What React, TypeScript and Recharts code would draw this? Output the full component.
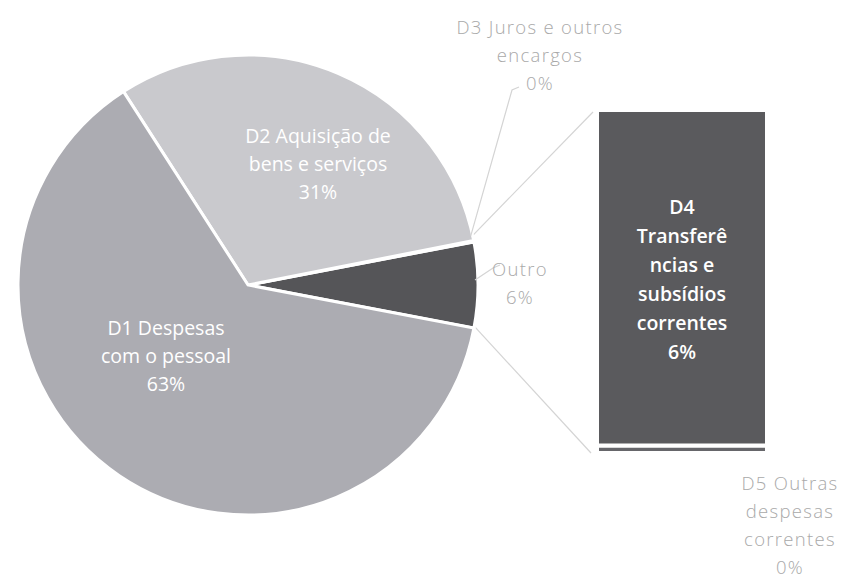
import { Bar, BarChart, Cell, Pie, PieChart, XAxis, YAxis } from "recharts";

// values are percentages of total current expenditure
const PIE_NAMES = ["D3 Juros e outros encargos", "D2 Aquisição de bens e serviços", "D1 Despesas com o pessoal"];
const PIE_VALUES = [0.1, 31.0, 62.9];
const BAR_NAMES = ["D5 Outras despesas correntes", "D4 Transferências e subsídios correntes"];
const BAR_VALUES = [0.13, 5.87];
const OTHER_NAME = "Outro";

const W = 850;
const H = 579;
const FONT = "'Open Sans', 'Noto Sans', sans-serif";

const CX = 243;
const CY = 280;
const R = 230;

const BAR_LEFT = 597;
const BAR_RIGHT = 767;
const BAR_TOP = 110;
const BAR_BOTTOM = 453;

const TEXT_GREY = "#a9a9a9";
const LINE_GREY = "#d4d4d4";

const otherValue = BAR_VALUES.reduce((a, b) => a + b, 0);
const total = otherValue + PIE_VALUES.reduce((a, b) => a + b, 0);
const halfOther = (otherValue / total) * 180;

// pie is drawn counter-clockwise starting with "Outro" centred on 3 o'clock
const pieData = [
  { name: OTHER_NAME, value: otherValue },
  ...PIE_NAMES.map((name, i) => ({ name, value: PIE_VALUES[i] })),
];
const PIE_COLORS = ["#555558", "#c6c6ca", "#c9c9cd", "#acacb2"];

const PIE_LABEL_LINES: string[][] = [
  ["Outro"],
  ["D3 Juros e outros", "encargos"],
  ["D2 Aquisição de", "bens e serviços"],
  ["D1 Despesas", "com o pessoal"],
];
// label centre offset from pie centre, inside labels are white
const PIE_LABEL_POS = [
  { dx: 277, dy: 2, inside: false, elbow: [250, -12] },
  { dx: 297, dy: -226, inside: false, elbow: [269, -190] },
  { dx: 75, dy: -117, inside: true, elbow: null },
  { dx: -77, dy: 75, inside: true, elbow: null },
];

const barData = [
  BAR_NAMES.reduce(
    (row, name, i) => ({ ...row, [`v${i}`]: BAR_VALUES[i] }),
    { name: OTHER_NAME } as Record<string, string | number>
  ),
];
const BAR_COLORS = ["#66666a", "#5a5a5d"];
const BAR_LABEL_LINES: string[][] = [
  ["D5 Outras", "despesas", "correntes"],
  ["D4", "Transferê", "ncias e", "subsídios", "correntes"],
];

const LH = 28;

function TextBlock({
  x,
  y,
  lines,
  fill,
  weight,
  size = 19.5,
  spacing = 0,
  lh = LH,
}: {
  x: number;
  y: number;
  lines: string[];
  fill: string;
  weight: number;
  size?: number;
  spacing?: number;
  lh?: number;
}) {
  const top = y - ((lines.length - 1) * lh) / 2;
  return (
    <text
      x={x}
      y={top}
      textAnchor="middle"
      fill={fill}
      fontFamily={FONT}
      fontSize={size}
      fontWeight={weight}
      letterSpacing={spacing}
    >
      {lines.map((l, i) => (
        <tspan key={i} x={x} y={top + i * lh} dominantBaseline="central">
          {l}
        </tspan>
      ))}
    </text>
  );
}

function renderPieLabel(p: any) {
  const i = p.index as number;
  const pos = PIE_LABEL_POS[i];
  const pct = `${Math.round((pieData[i].value / total) * 100)}%`;
  const lines = [...PIE_LABEL_LINES[i], pct];
  const x = CX + pos.dx;
  const y = CY + pos.dy;
  let leader = null;
  if (pos.elbow) {
    const a = (p.midAngle * Math.PI) / 180;
    const sx = CX + (R + 2) * Math.cos(a);
    const sy = CY - (R + 2) * Math.sin(a);
    const ex = CX + pos.elbow[0];
    const ey = CY + pos.elbow[1];
    leader = (
      <polyline
        points={`${sx},${sy} ${ex},${ey} ${ex + 7},${ey - 3}`}
        fill="none"
        stroke={LINE_GREY}
        strokeWidth={1.2}
      />
    );
  }
  return (
    <g key={`pl-${i}`}>
      {leader}
      {pos.inside ? (
        <TextBlock x={x} y={y} lines={lines} fill="#ffffff" weight={500} />
      ) : (
        <TextBlock x={x} y={y} lines={lines} fill={TEXT_GREY} weight={300} size={18.5} spacing={1.3} />
      )}
    </g>
  );
}

function barLabel(i: number) {
  return (p: any) => {
    const pct = `${Math.round((BAR_VALUES[i] / total) * 100)}%`;
    const lines = [...BAR_LABEL_LINES[i], pct];
    if (i === 1) {
      return (
        <TextBlock
          key="bl1"
          x={p.x + p.width / 2}
          y={p.y + p.height / 2 + 1}
          lines={lines}
          fill="#ffffff"
          weight={600}
          lh={29}
        />
      );
    }
    return (
      <TextBlock
        key="bl0"
        x={p.x + p.width + 23}
        y={p.y + p.height + 71}
        lines={lines}
        fill={TEXT_GREY}
        weight={300}
        size={18.5}
        spacing={1.3}
      />
    );
  };
}

function Connectors() {
  const a = (halfOther * Math.PI) / 180;
  const ex = CX + (R + 3) * Math.cos(a);
  const ey = CY - (R + 3) * Math.sin(a);
  const by = CY + (R + 3) * Math.sin(a);
  return (
    <svg
      width={W}
      height={H}
      style={{ position: "absolute", left: 0, top: 0, pointerEvents: "none" }}
    >
      <line x1={ex} y1={ey} x2={BAR_LEFT - 4} y2={BAR_TOP + 2} stroke={LINE_GREY} strokeWidth={1.2} />
      <line x1={ex} y1={by} x2={BAR_LEFT - 6} y2={BAR_BOTTOM} stroke={LINE_GREY} strokeWidth={1.2} />
    </svg>
  );
}

export default function App() {
  return (
    <div style={{ position: "relative", width: W, height: H, background: "#fff" }}>
      <style>{`body{margin:0}`}</style>
      <Connectors />
      <div style={{ position: "absolute", left: 0, top: 0 }}>
        <PieChart width={W} height={H}>
          <Pie
            data={pieData}
            dataKey="value"
            nameKey="name"
            cx={CX}
            cy={CY}
            outerRadius={R}
            startAngle={-halfOther}
            endAngle={360 - halfOther}
            stroke="#ffffff"
            strokeWidth={3}
            label={renderPieLabel}
            labelLine={false}
            isAnimationActive={false}
          >
            {pieData.map((d, i) => (
              <Cell key={d.name} fill={PIE_COLORS[i]} />
            ))}
          </Pie>
        </PieChart>
      </div>
      <div style={{ position: "absolute", left: 0, top: 0 }}>
        <BarChart
          width={W}
          height={H}
          data={barData}
          barCategoryGap={0}
          margin={{ top: BAR_TOP, left: BAR_LEFT, right: W - BAR_RIGHT, bottom: H - BAR_BOTTOM }}
        >
          <XAxis dataKey="name" hide />
          <YAxis hide domain={[0, otherValue]} />
          {BAR_VALUES.map((_, i) => (
            <Bar
              key={i}
              dataKey={`v${i}`}
              stackId="o"
              fill={BAR_COLORS[i]}
              stroke="#ffffff"
              strokeWidth={4}
              label={barLabel(i)}
              isAnimationActive={false}
            />
          ))}
        </BarChart>
      </div>
    </div>
  );
}
